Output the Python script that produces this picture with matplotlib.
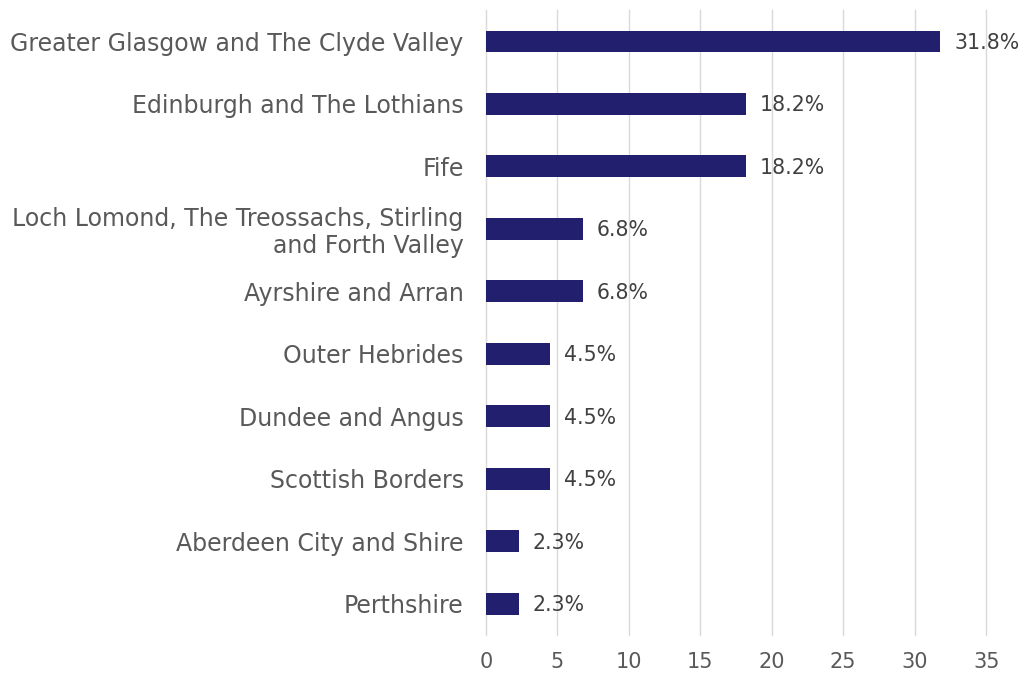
import matplotlib
matplotlib.use("Agg")
import matplotlib.pyplot as plt

regions = [
    "Greater Glasgow and The Clyde Valley",
    "Edinburgh and The Lothians",
    "Fife",
    "Loch Lomond, The Treossachs, Stirling\nand Forth Valley",
    "Ayrshire and Arran",
    "Outer Hebrides",
    "Dundee and Angus",
    "Scottish Borders",
    "Aberdeen City and Shire",
    "Perthshire",
]
shares = [31.8, 18.2, 18.2, 6.8, 6.8, 4.5, 4.5, 4.5, 2.3, 2.3]
x_ticks = [0, 5, 10, 15, 20, 25, 30, 35]

bar_color = "#211F6E"
text_color = "#595959"

plt.rcParams["font.family"] = ["DejaVu Sans"]

fig = plt.figure(figsize=(10.23, 6.82), dpi=100)
ax = fig.add_axes([0.475, 0.069, 0.489, 0.916])

pos = list(range(len(regions)))
bars = ax.barh(pos, shares, height=0.35, color=bar_color, zorder=3)

for b, v in zip(bars, shares):
    ax.annotate(f"{v}%", (b.get_width(), b.get_y() + b.get_height() / 2),
                xytext=(10, -1), textcoords="offset points",
                va="center", ha="left", fontsize=14.8, color="#404040", zorder=4)

ax.set_yticks(pos)
ax.set_yticklabels(regions, fontsize=17, color=text_color, ha="right",
                   multialignment="right", linespacing=1.15)
ax.set_ylim(len(regions) - 0.5, -0.5)
ax.set_xlim(0, 35)
ax.set_xticks(x_ticks)
ax.tick_params(axis="x", labelsize=15, labelcolor=text_color, length=0, pad=12)
ax.tick_params(axis="y", length=0, pad=16)

# vertical gridlines, unclipped so the ones at 0 and 35 show in full
for t in x_ticks:
    ax.axvline(t, color="#D9D9D9", linewidth=1.0, zorder=0, clip_on=False)
for s in ax.spines.values():
    s.set_visible(False)

fig.savefig("out.png", dpi=100)
